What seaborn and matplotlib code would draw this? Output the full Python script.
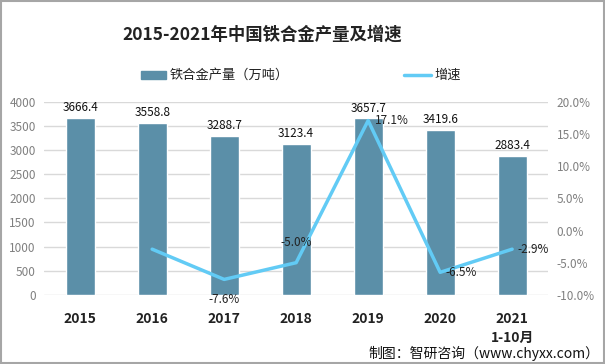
import seaborn as sns
import matplotlib.pyplot as plt
import pandas as pd

years = ["2015", "2016", "2017", "2018", "2019", "2020", "2021"]
tick_labels = ["2015", "2016", "2017", "2018", "2019", "2020", "2021\n1-10月"]
output = [3666.4, 3558.8, 3288.7, 3123.4, 3657.7, 3419.6, 2883.4]
growth = [None, -2.9, -7.6, -5.0, 17.1, -6.5, -2.9]
growth_labels = [None, None, "-7.6%", "-5.0%", "17.1%", "-6.5%", "-2.9%"]

sns.set_style("white")
plt.rcParams['font.family'] = ['Noto Sans CJK SC', 'DejaVu Sans']
plt.rcParams['axes.unicode_minus'] = False

bar_color = "#5b8fa8"
line_color = "#62cbf5"

df = pd.DataFrame({"year": years, "output": output,
                   "growth": pd.array(growth, dtype="Float64")})
line_df = df.dropna(subset=["growth"]).reset_index()

fig = plt.figure(figsize=(6.05, 3.64), dpi=100)
ax = fig.add_axes([0.073, 0.19, 0.833, 0.53])
sns.barplot(data=df, x="year", y="output", color=bar_color, width=0.4,
            saturation=1, ax=ax)
ax.set_ylim(0, 4000)
ax.set_yticks(range(0, 4001, 500))
ax.yaxis.grid(True, color="#d9d9d9", linewidth=1)
ax.set_axisbelow(True)
for s in ax.spines.values():
    s.set_visible(False)
ax.set_xlabel("")
ax.set_ylabel("")
ax.set_xticks(range(len(years)))
ax.set_xticklabels(tick_labels, fontsize=10, fontweight="bold", color="#222222",
                   linespacing=1.5)
ax.tick_params(axis="y", labelsize=8.5, labelcolor="#808080", length=0, pad=6)
ax.tick_params(axis="x", length=0, pad=12)
for i, v in enumerate(output):
    ax.text(i, v + 80, f"{v:.1f}", ha="center", va="bottom", fontsize=8.5,
            color="#111111")

ax2 = ax.twinx()
sns.lineplot(x=line_df["index"].astype(float), y=line_df["growth"].astype(float),
             color=line_color, linewidth=2.5, ax=ax2)
ax2.set_ylim(-10, 20)
ax2.set_yticks(range(-10, 21, 5))
ax2.set_yticklabels([f"{t:.1f}%" for t in range(-10, 21, 5)])
ax2.tick_params(axis="y", labelsize=8.5, labelcolor="#808080", length=0, pad=6)
ax2.set_ylabel("")
for s in ax2.spines.values():
    s.set_visible(False)
ax2.set_xlim(-0.5, len(years) - 0.5)

offsets = {2: (0, -10, "center", "top"), 3: (0, 10, "center", "bottom"),
           4: (5, 0, "left", "center"), 5: (4, 0, "left", "center"),
           6: (4, 0, "left", "center")}
for i, lab in enumerate(growth_labels):
    if lab is None:
        continue
    dx, dy, ha, va = offsets[i]
    ax2.annotate(lab, (i, growth[i]), xytext=(dx, dy), textcoords="offset points",
                 ha=ha, va=va, fontsize=8.5, color="#222222")

fig.text(0.434, 0.905, "2015-2021年中国铁合金产量及增速", ha="center", va="center",
         fontsize=12.5, fontweight="bold", color="#222222")

# legend
fig.patches.append(plt.Rectangle((0.233, 0.783), 0.042, 0.022, color=bar_color,
                                 transform=fig.transFigure, figure=fig))
fig.text(0.28, 0.794, "铁合金产量（万吨）", ha="left", va="center", fontsize=9.5,
         color="#222222")
fig.add_artist(plt.Line2D([0.667, 0.712], [0.794, 0.794], color=line_color,
                          linewidth=2.5, transform=fig.transFigure))
fig.text(0.718, 0.794, "增速", ha="left", va="center", fontsize=9.5, color="#222222")

fig.text(0.99, 0.03, "制图：智研咨询（www.chyxx.com）", ha="right", va="center",
         fontsize=10, color="#111111")

fig.patches.append(plt.Rectangle((0.001, 0.002), 0.997, 0.995, fill=False,
                                 edgecolor="#a6a6a6", linewidth=1.5,
                                 transform=fig.transFigure, figure=fig))

fig.savefig("out.png", dpi=100)
